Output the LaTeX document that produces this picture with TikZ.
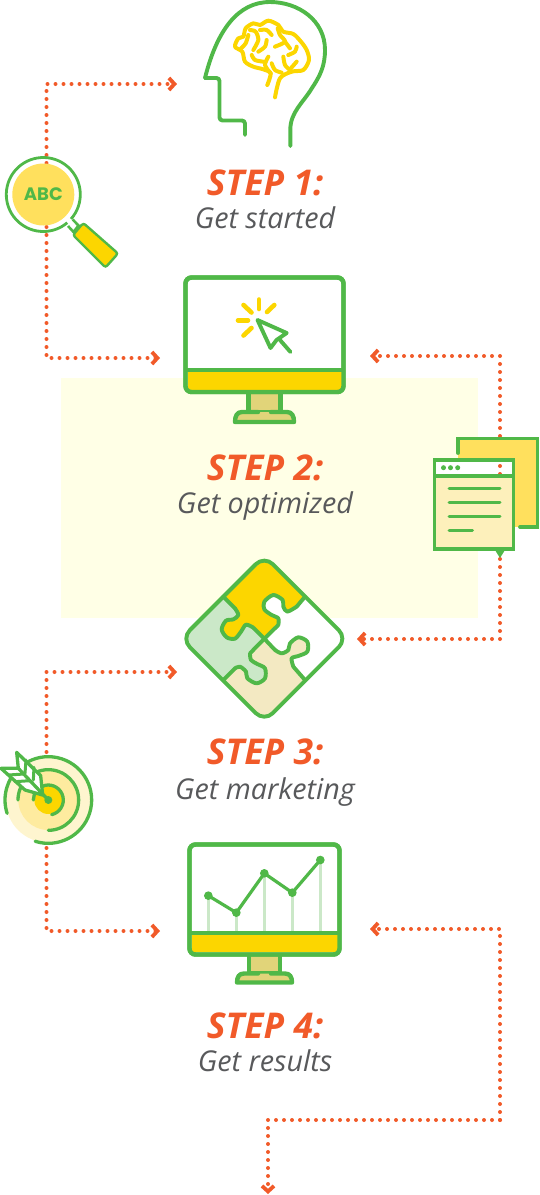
\documentclass[tikz,border=0pt]{standalone}
\usepackage{fontspec}
\setmainfont{Open Sans}
\newfontfamily\abcfont{Poppins}
\newfontfamily\stepfont[ItalicFeatures={FakeBold=2.6}]{Open Sans}
\usetikzlibrary{arrows.meta}
\definecolor{leaf}{HTML}{50B848}
\definecolor{sun}{HTML}{FCD600}
\definecolor{lemon}{HTML}{FFE05D}
\definecolor{cream}{HTML}{FDF0BB}
\definecolor{pale}{HTML}{FFFFE6}
\definecolor{rust}{HTML}{F15A29}
\definecolor{slate}{HTML}{58595B}
\definecolor{mint}{HTML}{CBE8C8}
\definecolor{sand}{HTML}{F3E9C2}
\definecolor{stem}{HTML}{E1D479}
\tikzset{
  flow/.style={rust, line width=4pt, line cap=round, dash pattern=on 0pt off 8pt,
    -{Straight Barb[length=5.5pt,width=12pt,line width=3.8pt]}},
  dots/.style={rust, line width=4pt, line cap=round, dash pattern=on 0pt off 8pt},
  steptitle/.style={anchor=base, rust, font=\stepfont\bfseries\itshape\fontsize{35.5}{35.5}\selectfont},
  stepsub/.style={anchor=base, slate, font=\itshape\fontsize{28.7}{28.7}\selectfont},
  ink/.style={leaf, line cap=round, line join=round, line width=3.9pt},
  glow/.style={sun, line cap=round, line join=round, line width=4pt},
  zoomed/.style={x=.3333pt, y=-.3333pt}
}
\begin{document}
\begin{tikzpicture}[x=1pt, y=-1pt]
\useasboundingbox (0,0) rectangle (539,1195);
\fill[pale] (61,378) rectangle (477.5,617.5);

% connector ends
\coordinate (lensin) at (46.5,195);
\coordinate (headin) at (177,84);
\coordinate (screenin) at (160,358);
\coordinate (screenout) at (370,356);
\coordinate (notetop) at (500,436);
\coordinate (notelow) at (500,559);
\coordinate (puzzleright) at (357,639);
\coordinate (puzzleleft) at (177,672);
\coordinate (aimin) at (46.5,800);
\coordinate (chartin) at (160,931);
\coordinate (chartout) at (370,929);
\coordinate (turn) at (500,1120);
\coordinate (leave) at (268,1194);
\coordinate (titlea) at (500,466);
\coordinate (titleb) at (500,474);

\draw[flow] (lensin) |- (headin);
\draw[flow] (lensin) |- (screenin);
\draw[flow] (notetop) |- (screenout);
\draw[flow] (notelow) |- (puzzleright);
\draw[flow] (aimin) |- (puzzleleft);
\draw[flow] (aimin) |- (chartin);
\draw[flow] (turn) |- (chartout);
\draw[flow] (turn) -| (leave);

% head
\draw[ink] (290.3,146) -- (290.3,130) .. controls (290.3,112) and (303,103) .. (312,88)
  .. controls (320,76) and (325,66) .. (325,50) .. controls (325,20) and (298,2) .. (270,2)
  .. controls (238,2) and (217,30) .. (205,78);
\draw[ink, rounded corners=3pt] (205,78) -- (219.5,78) -- (219.5,120.5) -- (245,120.5) -- (245,135);
\begin{scope}[shift={(225,10)}, zoomed]
\draw[glow] plot[smooth] coordinates {(127,225) (137,190) (115,178) (85,170) (60,155) (52,125) (30,110) (40,85) (55,80) (62,55) (85,40) (105,45) (130,32) (160,45) (175,65) (205,72) (228,95) (245,120) (252,150) (235,180) (200,185) (165,205) (150,262)};
\draw[glow] plot[smooth] coordinates {(70,75) (62,100) (48,115)};
\draw[glow] plot[smooth] coordinates {(75,60) (92,65) (100,90) (85,120)};
\draw[glow] plot[smooth] coordinates {(105,60) (125,60) (140,75)};
\draw[glow] plot[smooth] coordinates {(158,55) (165,75) (180,95) (150,110)};
\draw[glow] (180,95) -- (195,115);
\draw[glow] plot[smooth] coordinates {(125,90) (120,110) (100,125)};
\draw[glow] plot[smooth] coordinates {(80,135) (90,150) (115,155)};
\draw[glow] plot[smooth] coordinates {(130,140) (120,165) (137,190)};
\draw[glow] plot[smooth] coordinates {(140,160) (150,180) (170,188)};
\draw[glow] plot[smooth] coordinates {(175,140) (180,165) (195,180)};
\draw[glow] (215,155) -- (195,178);
\draw[glow] plot[smooth] coordinates {(215,110) (210,125) (190,135)};
\end{scope}

% magnifier
\node[circle, fill=lemon, minimum size=62pt, inner sep=0pt, text=leaf, font=\abcfont\bfseries\fontsize{18}{18}\selectfont] (lens) at (43.3,194.5) {ABC};
\draw[leaf, line width=2.8pt] (lens.center) ++(41.4:37) arc[start angle=41.4, end angle=-310.3, radius=37];
\draw[leaf, line width=2.6pt, fill=white] (68,226) -- (73.5,232) -- (78.5,225.5) -- (72.7,219.5);
\draw[leaf, line width=2.4pt, fill=sun, rounded corners=2.5pt] (83.3,223) -- (118,253.5) -- (105.5,267.5) -- (73,235) -- cycle;

% screen one
\draw[leaf, line width=4.4pt, fill=stem] (248.5,392) rectangle (280.5,412);
\draw[leaf, line width=4.4pt, line cap=round, line join=round, fill=stem] (258,412) -- (242,412) .. controls (237,412) and (235,416) .. (235,422) -- (294,422) .. controls (294,416) and (292,412) .. (287,412) -- (271,412);
\draw[leaf, line width=4.4pt, fill=white, rounded corners=6pt] (185.5,277.5) rectangle (343.5,392);
\fill[sun] (187.5,370) -- (341.5,370) -- (341.5,389.5) -- (187.5,389.5) -- cycle;
\draw[leaf, line width=4.4pt, rounded corners=6pt] (185.5,277.5) rectangle (343.5,392);
\draw[leaf, line width=4pt] (185.5,370) -- (343.5,370);
\draw[glow, line width=4.6pt] (259,299.5) -- (259,309);
\draw[glow, line width=4.6pt] (274.3,305) -- (267,312);
\draw[glow, line width=4.6pt] (243.5,305) -- (251.5,312.5);
\draw[glow, line width=4.6pt] (238,320.3) -- (248,320.3);
\draw[glow, line width=4.6pt] (243.5,335.5) -- (251.5,328);
\draw[ink] (257.5,320) -- (286.7,333) -- (276.5,340) -- (270.5,348) -- cycle;
\draw[ink] (280,340) -- (290.5,352);

% notes
\fill[lemon] (458,438.5) rectangle (537.5,527);
\draw[leaf, line width=3.8pt, line cap=round] (458,453) -- (458,438.5) -- (537.5,438.5) -- (537.5,527) -- (520,527);
\fill[white] (434.5,460) rectangle (513.5,476);
\draw[dots] (titlea) -- (titleb);
\fill[cream] (434.5,476) rectangle (513.5,549);
\fill[leaf] (495,550) -- (505,550) -- (500,558) -- cycle;
\draw[leaf, line width=3.8pt] (434.5,460) rectangle (513.5,549);
\draw[leaf, line width=3.2pt] (434.5,476) -- (513.5,476);
\foreach \dotx in {443.5,450.5,457.7} \fill[leaf] (\dotx,467.7) circle (2.5pt);
\foreach \liney/\linex in {488.3/500,502.3/500,516/500,530/472.5}
  \draw[leaf, line width=3pt, line cap=round] (449,\liney) -- (\linex,\liney);

% puzzle
\begin{scope}[shift={(170,550)}, zoomed]
\begin{scope}
\clip[rounded corners=12pt] (283,17) -- (532,266) -- (283,515) -- (34,266) -- cycle;
\fill[white] (0,0) rectangle (600,600);
\fill[sun] (283,0) -- (160,140) -- plot[smooth] coordinates {(195,175) (205,195) (190,208) (168,212) (155,238) (170,262) (195,266) (213,245) (228,224) (250,233)} -- (283,266) -- plot[smooth] coordinates {(325,225) (325,205) (305,195) (283,178) (283,155) (310,135) (338,150) (340,170) (352,185) (380,170)} -- (405,140) -- cycle;
\fill[mint] (0,266) -- (160,140) -- plot[smooth] coordinates {(195,175) (205,195) (190,208) (168,212) (155,238) (170,262) (195,266) (213,245) (228,224) (250,233)} -- (283,266) -- plot[smooth] coordinates {(240,310) (243,330) (262,342) (285,355) (285,385) (260,400) (232,385) (228,365) (210,350) (195,355)} -- (160,390) -- cycle;
\fill[sand] (283,540) -- (160,390) -- plot[smooth] coordinates {(195,355) (210,350) (228,365) (232,385) (260,400) (285,385) (285,355) (262,342) (243,330) (240,310)} -- (283,266) -- plot[smooth] coordinates {(315,300) (335,310) (355,300) (360,280) (385,262) (412,275) (412,305) (385,318) (365,325) (370,350)} -- (405,390) -- cycle;
\end{scope}
\draw[ink] plot[smooth] coordinates {(195,175) (205,195) (190,208) (168,212) (155,238) (170,262) (195,266) (213,245) (228,224) (250,233)};
\draw[ink] (160,140) -- (195,175) (250,233) -- (283,266);
\draw[ink] plot[smooth] coordinates {(325,225) (325,205) (305,195) (283,178) (283,155) (310,135) (338,150) (340,170) (352,185) (380,170)};
\draw[ink] (405,140) -- (380,170) (325,225) -- (283,266);
\draw[ink] plot[smooth] coordinates {(315,300) (335,310) (355,300) (360,280) (385,262) (412,275) (412,305) (385,318) (365,325) (370,350)};
\draw[ink] (405,390) -- (370,350) (315,300) -- (283,266);
\draw[ink] plot[smooth] coordinates {(240,310) (243,330) (262,342) (285,355) (285,385) (260,400) (232,385) (228,365) (210,350) (195,355)};
\draw[ink] (160,390) -- (195,355) (240,310) -- (283,266);
\draw[ink, rounded corners=12pt] (283,17) -- (532,266) -- (283,515) -- (34,266) -- cycle;
\end{scope}

% target
\begin{scope}[shift={(0,740)}, zoomed]
\fill[cream!70!white] (145,180) circle (128);
\fill[cream!70!lemon] (145,180) circle (90);
\fill[sun] (145,180) circle (42);
\draw[ink, line width=3.3pt] (145,180) ++(107.7:130) arc[start angle=107.7, end angle=-198, radius=130];
\draw[ink, line width=3.3pt] (145,180) ++(90:91) arc[start angle=90, end angle=-180, radius=91];
\draw[ink, line width=3.3pt] (145,180) ++(77:45) arc[start angle=77, end angle=-180, radius=45];
\fill[leaf] (145,180) circle (12);
\draw[ink, line width=3.3pt, fill=white] (50,37) -- (122,107) -- (128,165) -- (75,150) -- (3,85) -- (55,85) -- cycle;
\draw[ink, line width=3.3pt] (55,85) -- (145,180);
\draw[ink, line width=3pt] (78,60) -- (75,100) (102,82) -- (100,120) (25,105) -- (72,102) (45,125) -- (90,122);
\end{scope}

% screen two
\draw[leaf, line width=4.4pt, fill=stem] (249,954) rectangle (280,973.5);
\draw[leaf, line width=4.4pt, line cap=round, line join=round, fill=stem] (258,973.5) -- (244,973.5) .. controls (239,973.5) and (237,977) .. (237,982.5) -- (292,982.5) .. controls (292,977) and (290,973.5) .. (285,973.5) -- (271,973.5);
\draw[leaf, line width=4.4pt, fill=white, rounded corners=6pt] (189.5,844.5) rectangle (339.5,954.5);
\fill[sun] (191.5,933) rectangle (337.5,952);
\draw[leaf, line width=4.4pt, rounded corners=6pt] (189.5,844.5) rectangle (339.5,954.5);
\draw[leaf, line width=4pt] (189.5,933.3) -- (339.5,933.3);
\begin{scope}[shift={(175,830)}, zoomed]
\foreach \barx/\bary in {100/197,184/248,268/130,352/188,436/90}
  \draw[mint, line width=3pt] (\barx,\bary) -- (\barx,303);
\draw[ink, line width=3.2pt] (100,197) -- (184,248) -- (268,130) -- (352,188) -- (436,90);
\foreach \barx/\bary in {100/197,184/248,268/130,352/188,436/90}
  \fill[leaf] (\barx,\bary) circle (13);
\end{scope}

% labels
\node[steptitle] (step1) at (265,195.7) {STEP 1:};
\node[stepsub] (get1) at (265,228.7) {Get started};
\node[steptitle] (step2) at (265,480) {STEP 2:};
\node[stepsub] (get2) at (265,513.7) {Get optimized};
\node[steptitle] (step3) at (265,764.7) {STEP 3:};
\node[stepsub] (get3) at (265,799) {Get marketing};
\node[steptitle] (step4) at (265,1038.7) {STEP 4:};
\node[stepsub] (get4) at (265,1071.7) {Get results};
\end{tikzpicture}
\end{document}
